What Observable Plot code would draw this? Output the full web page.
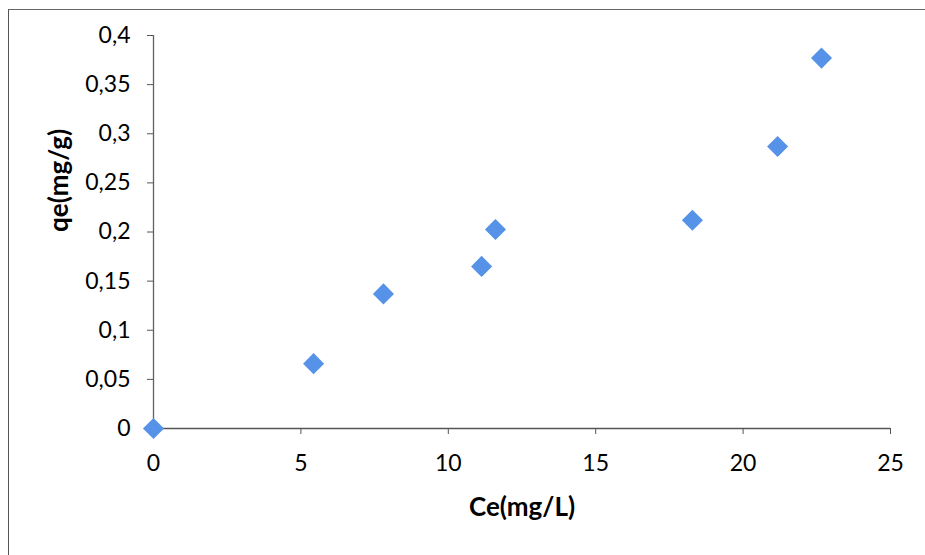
<!DOCTYPE html>
<html>
<head>
<meta charset="utf-8">
<script src="https://cdn.jsdelivr.net/npm/d3@7"></script>
<script src="https://cdn.jsdelivr.net/npm/@observablehq/plot@0.6"></script>
<style>
  html, body { margin: 0; padding: 0; background: #fff; }
  #wrap { position: relative; width: 925px; height: 555px; overflow: hidden; }
  #frame { position: absolute; left: 8px; top: 9px; width: 940px; height: 570px;
           border-left: 1.5px solid #555; border-top: 1.5px solid #666; box-sizing: border-box; }
  #chart { position: absolute; left: 0; top: 0; }
</style>
</head>
<body>
<div id="wrap"><div id="frame"></div><div id="chart"></div></div>
<script>
const ce = [0, 5.43, 7.8, 11.13, 11.6, 18.28, 21.17, 22.66];
const qe = [0, 0.066, 0.137, 0.165, 0.2025, 0.212, 0.287, 0.377];
const xTicks = [0, 5, 10, 15, 20, 25];
const yTicks = [0, 0.05, 0.1, 0.15, 0.2, 0.25, 0.3, 0.35, 0.4];
const xLabel = "Ce(mg/L)";
const yLabel = "qe(mg/g)";

const data = ce.map((c, i) => ({ce: c, qe: qe[i]}));
const fmt = d => String(+d.toFixed(2)).replace(".", ",");

const plot = Plot.plot({
  width: 925,
  height: 555,
  marginLeft: 153,
  marginRight: 35,
  marginTop: 35,
  marginBottom: 127,
  style: {fontFamily: "Lato, 'Open Sans', sans-serif", color: "#000", background: "transparent"},
  x: {domain: [0, 25]},
  y: {domain: [0, 0.4]},
  marks: [
    Plot.axisX({ticks: xTicks, tickSize: 6, tickPadding: 20, fontSize: 23, stroke: "#555", label: null, tickFormat: d => String(d)}),
    Plot.axisY({ticks: yTicks, tickSize: 6, tickPadding: 17, fontSize: 23, stroke: "#555", label: null, tickFormat: fmt}),
    Plot.ruleY([0], {stroke: "#555", strokeWidth: 1.3}),
    Plot.ruleX([0], {stroke: "#5a6070", strokeWidth: 1.3}),
    Plot.dot(data, {x: "ce", y: "qe", symbol: "diamond2", r: 9.5, fill: "#5692e8", stroke: "none"}),
    Plot.text([xLabel], {frameAnchor: "bottom", dy: 79, lineAnchor: "middle", fontSize: 26, fontWeight: "bold", fill: "#000"}),
    Plot.text([yLabel], {frameAnchor: "left", dx: -94, rotate: -90, lineAnchor: "middle", fontSize: 26, fontWeight: "bold", fill: "#000"})
  ]
});
document.getElementById("chart").appendChild(plot);
</script>
</body>
</html>
